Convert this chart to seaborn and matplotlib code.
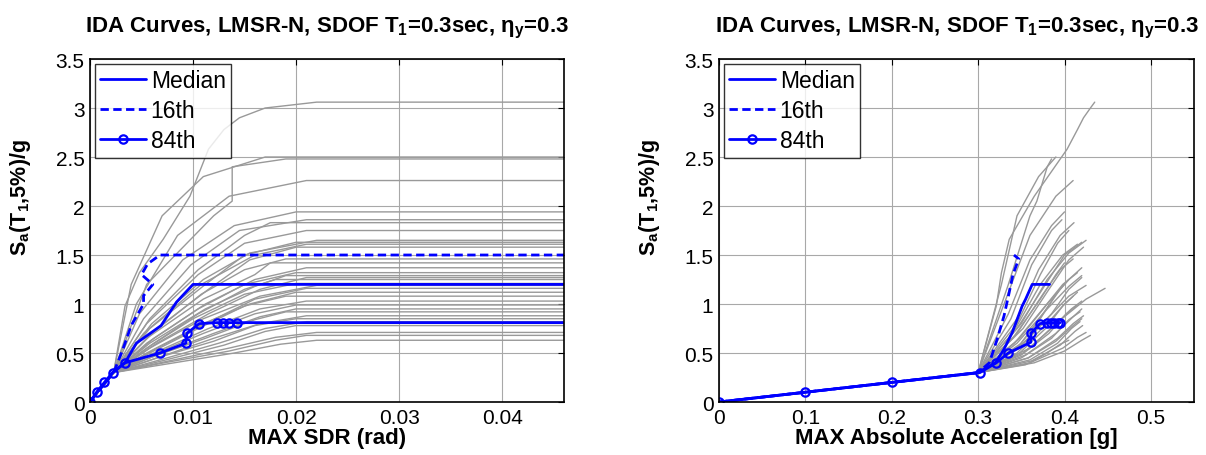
import matplotlib
matplotlib.use("Agg")
import matplotlib.pyplot as plt
import seaborn as sns
import pandas as pd
from matplotlib.ticker import FuncFormatter

# IDA curves of the individual records: Sa levels, matching max SDR and max acceleration
ida_sa = [
    [0, 0.3, 0.98, 1.32, 1.66, 2.1, 2.58, 2.78, 2.9, 3.0, 3.06],
    [0, 0.3, 1.2, 1.9, 2.3, 2.5],
    [0, 0.3, 1.2, 1.9, 2.05, 2.4, 2.48],
    [0, 0.3, 1.0, 1.7, 2.1, 2.26],
    [0, 0.3, 0.9, 1.45, 1.8, 1.94],
    [0, 0.3, 0.85, 1.4, 1.75, 1.86],
    [0, 0.3, 0.85, 1.35, 1.7, 1.83],
    [0, 0.3, 0.8, 1.3, 1.62, 1.75],
    [0, 0.3, 0.8, 1.25, 1.52, 1.65],
    [0, 0.3, 0.75, 1.2, 1.5, 1.63],
    [0, 0.3, 0.7, 1.2, 1.5, 1.61],
    [0, 0.3, 0.75, 1.15, 1.45, 1.58],
    [0, 0.3, 0.7, 1.1, 1.35, 1.46],
    [0, 0.3, 0.65, 1.05, 1.3, 1.42],
    [0, 0.3, 0.65, 1.0, 1.25, 1.37],
    [0, 0.3, 0.6, 0.95, 1.2, 1.32],
    [0, 0.3, 0.6, 0.95, 1.18, 1.29],
    [0, 0.3, 0.6, 0.9, 1.15, 1.27],
    [0, 0.3, 0.6, 0.9, 1.15, 1.25],
    [0, 0.3, 0.55, 0.85, 1.1, 1.21],
    [0, 0.3, 0.55, 0.85, 1.08, 1.19],
    [0, 0.3, 0.55, 0.8, 1.05, 1.16],
    [0, 0.3, 0.5, 0.8, 1.0, 1.12],
    [0, 0.3, 0.5, 0.75, 0.98, 1.08],
    [0, 0.3, 0.5, 0.75, 0.95, 1.03],
    [0, 0.3, 0.48, 0.7, 0.9, 0.99],
    [0, 0.3, 0.48, 0.7, 0.87, 0.95],
    [0, 0.3, 0.45, 0.65, 0.84, 0.92],
    [0, 0.3, 0.45, 0.65, 0.8, 0.88],
    [0, 0.3, 0.45, 0.62, 0.78, 0.85],
    [0, 0.3, 0.43, 0.6, 0.75, 0.82],
    [0, 0.3, 0.42, 0.58, 0.72, 0.78],
    [0, 0.3, 0.4, 0.55, 0.66, 0.71],
    [0, 0.3, 0.4, 0.52, 0.63, 0.68],
    [0, 0.3, 0.38, 0.5, 0.59, 0.63],
]
ida_sdr = [
    [0, 0.0023, 0.0034, 0.0048, 0.0071, 0.0097, 0.0115, 0.013, 0.0145, 0.017, 0.022],
    [0, 0.0023, 0.0040, 0.0070, 0.0110, 0.017],
    [0, 0.0023, 0.0055, 0.0120, 0.0138, 0.0138, 0.019],
    [0, 0.0023, 0.0045, 0.0085, 0.0135, 0.021],
    [0, 0.0023, 0.0048, 0.0090, 0.0140, 0.020],
    [0, 0.0023, 0.0052, 0.0098, 0.0145, 0.021],
    [0, 0.0023, 0.0058, 0.0105, 0.0150, 0.0175],
    [0, 0.0023, 0.0055, 0.0105, 0.0150, 0.021],
    [0, 0.0023, 0.0060, 0.0110, 0.0155, 0.022],
    [0, 0.0023, 0.0058, 0.0112, 0.0150, 0.020],
    [0, 0.0023, 0.0052, 0.0108, 0.0160, 0.021],
    [0, 0.0023, 0.0065, 0.0115, 0.0155, 0.020],
    [0, 0.0023, 0.0060, 0.0108, 0.0150, 0.019],
    [0, 0.0023, 0.0055, 0.0110, 0.0160, 0.0175],
    [0, 0.0023, 0.0062, 0.0112, 0.0160, 0.021],
    [0, 0.0023, 0.0055, 0.0105, 0.0150, 0.020],
    [0, 0.0023, 0.0058, 0.0112, 0.0160, 0.019],
    [0, 0.0023, 0.0065, 0.0115, 0.0165, 0.021],
    [0, 0.0023, 0.0062, 0.0105, 0.0150, 0.018],
    [0, 0.0023, 0.0055, 0.0100, 0.0150, 0.020],
    [0, 0.0023, 0.0058, 0.0110, 0.0165, 0.022],
    [0, 0.0023, 0.0065, 0.0112, 0.0160, 0.021],
    [0, 0.0023, 0.0055, 0.0110, 0.0155, 0.020],
    [0, 0.0023, 0.0058, 0.0105, 0.0150, 0.019],
    [0, 0.0023, 0.0062, 0.0115, 0.0165, 0.021],
    [0, 0.0023, 0.0060, 0.0110, 0.0160, 0.020],
    [0, 0.0023, 0.0065, 0.0120, 0.0165, 0.020],
    [0, 0.0023, 0.0058, 0.0112, 0.0160, 0.019],
    [0, 0.0023, 0.0065, 0.0120, 0.0165, 0.021],
    [0, 0.0023, 0.0065, 0.0120, 0.0160, 0.020],
    [0, 0.0023, 0.0068, 0.0125, 0.0170, 0.021],
    [0, 0.0023, 0.0070, 0.0130, 0.0170, 0.020],
    [0, 0.0023, 0.0068, 0.0135, 0.0180, 0.022],
    [0, 0.0023, 0.0072, 0.0135, 0.0180, 0.021],
    [0, 0.0023, 0.0070, 0.0140, 0.0185, 0.022],
]
ida_acc = [
    [0, 0.3, 0.321, 0.327, 0.336, 0.365, 0.403, 0.415, 0.422, 0.43, 0.435],
    [0, 0.3, 0.327, 0.345, 0.37, 0.39],
    [0, 0.3, 0.335, 0.36, 0.368, 0.38, 0.385],
    [0, 0.3, 0.33, 0.36, 0.39, 0.41],
    [0, 0.3, 0.335, 0.36, 0.385, 0.40],
    [0, 0.3, 0.338, 0.362, 0.385, 0.397],
    [0, 0.3, 0.345, 0.37, 0.395, 0.411],
    [0, 0.3, 0.345, 0.372, 0.392, 0.405],
    [0, 0.3, 0.35, 0.38, 0.405, 0.425],
    [0, 0.3, 0.345, 0.378, 0.40, 0.42],
    [0, 0.3, 0.34, 0.372, 0.398, 0.415],
    [0, 0.3, 0.352, 0.382, 0.405, 0.422],
    [0, 0.3, 0.345, 0.375, 0.395, 0.41],
    [0, 0.3, 0.34, 0.372, 0.39, 0.40],
    [0, 0.3, 0.348, 0.38, 0.405, 0.42],
    [0, 0.3, 0.342, 0.375, 0.398, 0.415],
    [0, 0.3, 0.345, 0.38, 0.405, 0.42],
    [0, 0.3, 0.352, 0.385, 0.405, 0.42],
    [0, 0.3, 0.35, 0.375, 0.395, 0.405],
    [0, 0.3, 0.345, 0.372, 0.39, 0.40],
    [0, 0.3, 0.348, 0.38, 0.405, 0.425],
    [0, 0.3, 0.36, 0.39, 0.425, 0.447],
    [0, 0.3, 0.345, 0.38, 0.40, 0.415],
    [0, 0.3, 0.348, 0.378, 0.398, 0.41],
    [0, 0.3, 0.352, 0.385, 0.408, 0.42],
    [0, 0.3, 0.35, 0.382, 0.402, 0.415],
    [0, 0.3, 0.355, 0.39, 0.41, 0.42],
    [0, 0.3, 0.35, 0.385, 0.405, 0.418],
    [0, 0.3, 0.358, 0.392, 0.41, 0.422],
    [0, 0.3, 0.358, 0.39, 0.41, 0.42],
    [0, 0.3, 0.36, 0.392, 0.408, 0.418],
    [0, 0.3, 0.362, 0.395, 0.412, 0.421],
    [0, 0.3, 0.36, 0.398, 0.415, 0.425],
    [0, 0.3, 0.365, 0.40, 0.42, 0.43],
    [0, 0.3, 0.355, 0.38, 0.395, 0.405],
]
# flatline (collapse) drift drawn past the right edge
flat_sdr = 0.06

# fractile curves, SDR panel
med_sdr = [0, 0.0007, 0.0015, 0.0022, 0.0034, 0.0045, 0.0069, 0.0084, 0.0100, 0.06]
med_sdr_sa = [0, 0.1, 0.2, 0.3, 0.4, 0.6, 0.78, 1.02, 1.2, 1.2]
p16_sdr = [0, 0.0007, 0.0015, 0.0023, 0.0032, 0.0040, 0.0052, 0.0052, 0.0061, 0.0050, 0.0056, 0.0068, 0.06]
p16_sdr_sa = [0, 0.1, 0.2, 0.3, 0.54, 0.78, 1.0, 1.085, 1.2, 1.3, 1.41, 1.5, 1.5]
p84_sdr = [0, 0.00065, 0.0014, 0.0022, 0.0034, 0.0068, 0.0093, 0.0094, 0.0106,
           0.0123, 0.0129, 0.0135, 0.0143, 0.06]
p84_sdr_sa = [0, 0.1, 0.2, 0.3, 0.4, 0.5, 0.6, 0.7, 0.8, 0.81, 0.81, 0.81, 0.81, 0.81]

# fractile curves, acceleration panel
med_acc = [0, 0.1, 0.2, 0.3, 0.32, 0.33, 0.3395, 0.351, 0.355, 0.3626, 0.3827]
med_acc_sa = [0, 0.1, 0.2, 0.3, 0.4, 0.54, 0.71, 0.98, 1.05, 1.2, 1.2]
p16_acc = [0, 0.1, 0.2, 0.3, 0.313, 0.322, 0.330, 0.336, 0.3403, 0.347, 0.3415]
p16_acc_sa = [0, 0.1, 0.2, 0.3, 0.4, 0.64, 0.88, 1.12, 1.3, 1.46, 1.5]
p84_acc = [0, 0.1, 0.2, 0.302, 0.321, 0.335, 0.361, 0.361, 0.3715,
           0.380, 0.384, 0.388, 0.392, 0.395]
p84_acc_sa = [0, 0.1, 0.2, 0.3, 0.4, 0.5, 0.61, 0.7, 0.8, 0.81, 0.81, 0.81, 0.81, 0.81]

title = r"IDA Curves, LMSR-N, SDOF T$_1$=0.3sec, $\eta_y$=0.3"
ylabel = r"S$_a$(T$_1$,5%)/g"

rows = []
for i, (sa, sdr, acc) in enumerate(zip(ida_sa, ida_sdr, ida_acc)):
    for s, d, a in zip(sa, sdr, acc):
        rows.append({"record": i, "sa": s, "sdr": d, "acc": a})
    rows.append({"record": i, "sa": sa[-1], "sdr": flat_sdr, "acc": None})
df = pd.DataFrame(rows)

sns.set_theme(style="white")
plt.rcParams["font.family"] = ["Liberation Sans", "DejaVu Sans"]
plt.rcParams["mathtext.default"] = "regular"
plt.rcParams["text.color"] = "black"
plt.rcParams["axes.labelcolor"] = "black"
plt.rcParams["legend.labelcolor"] = "black"

fig = plt.figure(figsize=(12.06, 4.56), dpi=100)
ax1 = fig.add_axes([0.0746, 0.1162, 0.3931, 0.7522])
ax2 = fig.add_axes([0.5962, 0.1162, 0.3939, 0.7522])

gray = "#999999"
blue = (0, 0, 1)

panels = [
    (ax1, "sdr", (0, 0.046), [0, 0.01, 0.02, 0.03, 0.04], "MAX SDR (rad)",
     (med_sdr, med_sdr_sa), (p16_sdr, p16_sdr_sa), (p84_sdr, p84_sdr_sa)),
    (ax2, "acc", (0, 0.55), [0, 0.1, 0.2, 0.3, 0.4, 0.5], "MAX Absolute Acceleration [g]",
     (med_acc, med_acc_sa), (p16_acc, p16_acc_sa), (p84_acc, p84_acc_sa)),
]

for ax, col, xlim, xticks, xlabel, med, p16, p84 in panels:
    sns.lineplot(data=df.dropna(subset=[col]), x=col, y="sa", units="record",
                 estimator=None, sort=False, color=gray, linewidth=1.0, ax=ax)
    ax.plot(med[0], med[1], color=blue, lw=2, label="Median")
    ax.plot(p16[0], p16[1], color=blue, lw=2, ls=(0, (3, 1.6)), label="16th")
    ax.plot(p84[0], p84[1], color=blue, lw=2, marker="o", ms=6,
            mfc="none", mew=1.6, label="84th")

    ax.set_xlim(*xlim)
    ax.set_ylim(0, 3.5)
    ax.set_xticks(xticks)
    ax.set_yticks([0, 0.5, 1, 1.5, 2, 2.5, 3, 3.5])
    fmt = FuncFormatter(lambda v, p: "%g" % v)
    ax.xaxis.set_major_formatter(fmt)
    ax.yaxis.set_major_formatter(fmt)
    ax.grid(True, color="#a8a8a8", lw=0.8)
    ax.set_axisbelow(True)
    ax.tick_params(direction="in", top=True, right=True, length=4, width=0.8,
                   labelsize=15, colors="black", pad=4)
    for sp in ax.spines.values():
        sp.set_color("black")
        sp.set_linewidth(1.2)
    ax.set_xlabel(xlabel, fontsize=16, fontweight="bold", labelpad=0, color="black")
    ax.set_ylabel(ylabel, fontsize=15.5, fontweight="bold", labelpad=4, color="black")
    ax.yaxis.set_label_coords(-0.12, 0.6)
    ax.set_title(title, fontsize=16, fontweight="bold", pad=20, color="black")
    leg = ax.legend(loc="upper left", fontsize=16.5, frameon=True, fancybox=False,
                    borderaxespad=0.2, handlelength=2.0, handletextpad=0.2,
                    labelspacing=0.3, borderpad=0.25)
    leg.get_frame().set_edgecolor("black")
    leg.get_frame().set_linewidth(1.0)

fig.savefig("out.png", dpi=100)
